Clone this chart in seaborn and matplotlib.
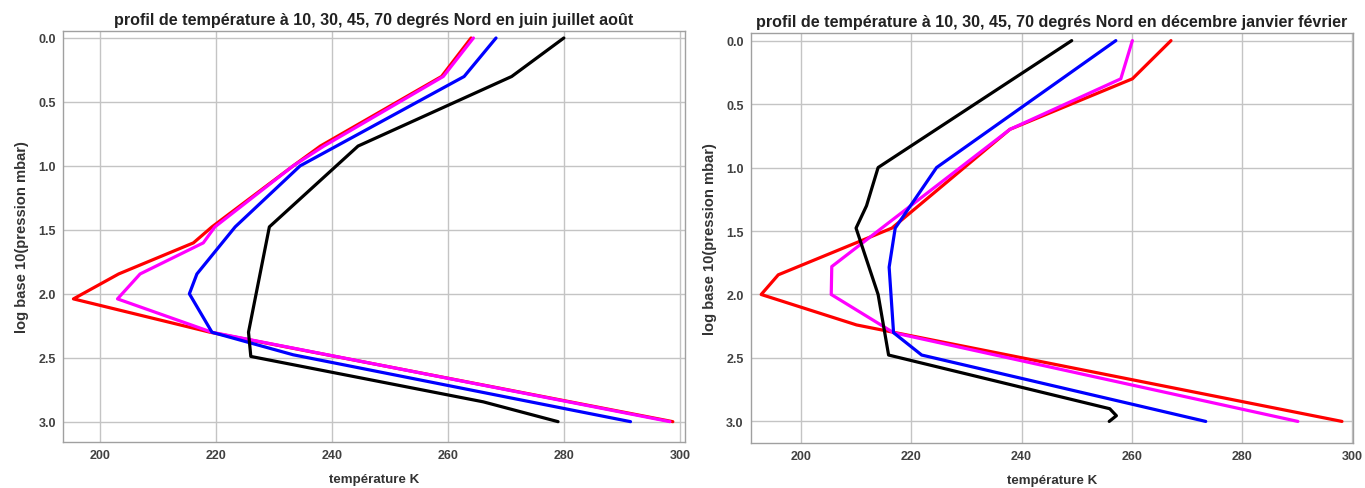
import numpy as np
import pandas as pd
import matplotlib
matplotlib.use("Agg")
import matplotlib.pyplot as plt
import seaborn as sns
from matplotlib.ticker import MultipleLocator

# ---- data: summer (juin juillet août) ----
jja_lat10_T = [264.0, 258.9, 238.0, 233.3, 219.3, 216.1, 203.2, 195.4, 219.0, 298.8]
jja_lat10_P = [0.0, 0.301, 0.845, 1.0, 1.477, 1.602, 1.845, 2.04, 2.301, 3.0]
jja_lat30_T = [264.4, 259.2, 238.6, 233.3, 219.8, 217.8, 206.9, 203.0, 219.3, 298.3]
jja_lat30_P = [0.0, 0.301, 0.845, 1.0, 1.477, 1.602, 1.845, 2.04, 2.301, 3.0]
jja_lat45_T = [268.3, 262.8, 234.5, 223.3, 216.7, 215.4, 219.3, 233.3, 291.5]
jja_lat45_P = [0.0, 0.301, 1.0, 1.477, 1.845, 2.0, 2.301, 2.477, 3.0]
jja_lat70_T = [280.0, 271.0, 244.5, 229.2, 225.6, 226.0, 266.1, 279.0]
jja_lat70_P = [0.0, 0.301, 0.845, 1.477, 2.301, 2.49, 2.845, 3.0]

# ---- data: winter (décembre janvier février) ----
djf_lat10_T = [267.1, 260.1, 237.9, 216.5, 195.9, 192.8, 210.1, 298.1]
djf_lat10_P = [0.0, 0.301, 0.699, 1.477, 1.845, 2.0, 2.24, 3.0]
djf_lat30_T = [260.1, 258.0, 237.9, 205.6, 205.5, 216.8, 290.1]
djf_lat30_P = [0.0, 0.301, 0.699, 1.78, 2.0, 2.301, 3.0]
djf_lat45_T = [257.1, 224.6, 217.1, 216.0, 216.8, 221.9, 273.4]
djf_lat45_P = [0.0, 1.0, 1.477, 1.785, 2.301, 2.477, 3.0]
djf_lat70_T = [249.1, 214.0, 211.9, 210.0, 214.0, 215.9, 256.0, 257.2, 255.9]
djf_lat70_P = [0.0, 1.0, 1.301, 1.477, 2.0, 2.477, 2.90, 2.955, 3.0]

latitudes = ["10N", "30N", "45N", "70N"]
colors = ["#ff0000", "#ff00ff", "#0000ff", "#000000"]
titles = ["profil de température à 10, 30, 45, 70 degrés Nord en juin juillet août",
          "profil de température à 10, 30, 45, 70 degrés Nord en décembre janvier février"]
xlabel = "température K"
ylabel = "log base 10(pression mbar)"
xticks = [200, 220, 240, 260, 280, 300]
yticks = [0.0, 0.5, 1.0, 1.5, 2.0, 2.5, 3.0]


def build(series):
    frames = []
    for lat, (T, P) in zip(latitudes, series):
        frames.append(pd.DataFrame({"T": T, "logP": P, "lat": lat}))
    return pd.concat(frames, ignore_index=True)


df_jja = build([(jja_lat10_T, jja_lat10_P), (jja_lat30_T, jja_lat30_P),
                (jja_lat45_T, jja_lat45_P), (jja_lat70_T, jja_lat70_P)])
df_djf = build([(djf_lat10_T, djf_lat10_P), (djf_lat30_T, djf_lat30_P),
                (djf_lat45_T, djf_lat45_P), (djf_lat70_T, djf_lat70_P)])

sns.set_style("white")
plt.rcParams["font.family"] = ["Liberation Sans", "DejaVu Sans"]

W, H = 1365, 489
fig = plt.figure(figsize=(W / 100, H / 100), dpi=100)
ax1 = fig.add_axes([63 / W, 1 - 443 / H, 622 / W, 411.3 / H])
ax2 = fig.add_axes([750.7 / W, 1 - 444 / H, 602.3 / W, 410 / H])

palette = dict(zip(latitudes, colors))
specs = [(ax1, df_jja, (193.6, 300.9), (3.159, -0.057)),
         (ax2, df_djf, (190.9, 300.1), (3.17, -0.06))]

for i, (ax, df, xl, yl) in enumerate(specs):
    sns.lineplot(data=df, x="T", y="logP", hue="lat", palette=palette,
                 sort=False, estimator=None, legend=False, lw=2.3, ax=ax)
    ax.set_xlim(*xl)
    ax.set_ylim(*yl)
    ax.set_xticks(xticks)
    ax.set_yticks(yticks)
    ax.set_yticklabels([f"{v:.1f}" for v in yticks])
    ax.xaxis.set_minor_locator(MultipleLocator(5))
    ax.yaxis.set_minor_locator(MultipleLocator(0.1))
    ax.grid(True, which="major", color="#c4c4c4", lw=1.0)
    ax.set_axisbelow(True)
    for s in ax.spines.values():
        s.set_color("#a0a0a0")
        s.set_linewidth(1.0)
    ax.tick_params(which="major", direction="in", length=4, color="#a0a0a0",
                   labelsize=9, labelcolor="#404040", pad=5)
    ax.tick_params(which="minor", direction="in", length=2, color="#b0b0b0")
    for lab in ax.get_xticklabels() + ax.get_yticklabels():
        lab.set_fontweight("bold")
    ax.set_title(titles[i], fontsize=11.6, fontweight="bold", color="#222222", pad=5)
    ax.set_xlabel(xlabel, fontsize=9.6, fontweight="bold", color="#333333", labelpad=9)
    ax.set_ylabel(ylabel, fontsize=10.6, fontweight="bold", color="#333333", labelpad=7)

fig.savefig("out.png", dpi=100)
